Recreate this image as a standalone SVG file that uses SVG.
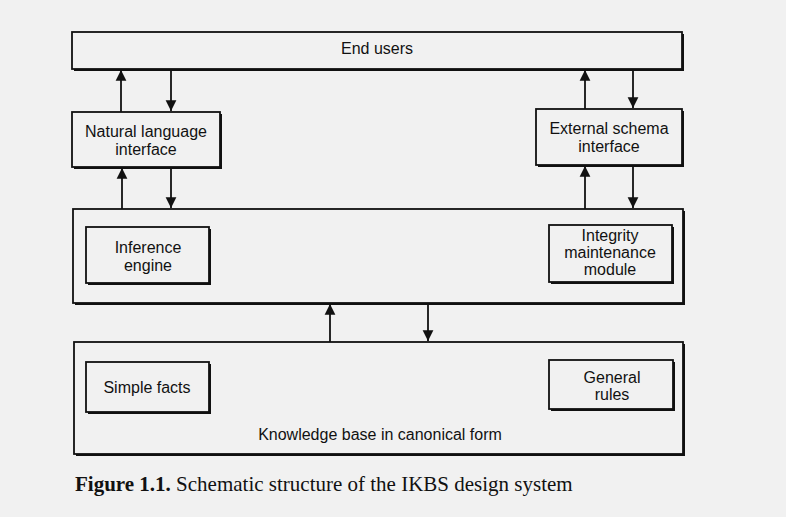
<svg xmlns="http://www.w3.org/2000/svg" width="786" height="517" viewBox="0 0 786 517">
<style>
.bg{fill:#f1f1f1}
.sh{fill:#111}
.box{fill:#f1f1f1;stroke:#111;stroke-width:1.8}
.t{font-family:"Liberation Sans",Arial,sans-serif;font-size:16px;fill:#111;text-anchor:middle}
.c{stroke:#111;stroke-width:1.8;fill:none}
.cap{font-family:"Liberation Serif","Times New Roman",serif;font-size:21px;fill:#111}
</style>
<defs>
<marker id="ah" viewBox="0 0 10 14" refX="10" refY="7" markerWidth="11" markerHeight="15" markerUnits="userSpaceOnUse" orient="auto">
<path d="M0,2 L10,7 L0,12 Z" fill="#111"/>
</marker>
</defs>
<rect class="bg" x="0" y="0" width="786" height="517"/>

<g id="end-users">
<rect class="sh" x="74" y="34" width="610" height="37"/>
<rect class="box" x="72" y="32" width="610" height="37"/>
<text class="t" x="377" y="54">End users</text>
</g>

<g id="natural-language-interface">
<rect class="sh" x="74" y="114" width="148" height="55"/>
<rect class="box" x="72" y="112" width="148" height="55"/>
<text class="t" x="146" y="137">Natural language</text>
<text class="t" x="146" y="155">interface</text>
</g>

<g id="external-schema-interface">
<rect class="sh" x="538" y="111" width="146" height="56"/>
<rect class="box" x="536" y="109" width="146" height="56"/>
<text class="t" x="609" y="134">External schema</text>
<text class="t" x="609" y="152">interface</text>
</g>

<g id="processing-layer">
<rect class="sh" x="75" y="211" width="610" height="94"/>
<rect class="box" x="73" y="209" width="610" height="94"/>
</g>

<g id="inference-engine">
<rect class="sh" x="88" y="229" width="123" height="56"/>
<rect class="box" x="86" y="227" width="123" height="56"/>
<text class="t" x="148" y="253">Inference</text>
<text class="t" x="148" y="271">engine</text>
</g>

<g id="integrity-maintenance-module">
<rect class="sh" x="551" y="227" width="123" height="57"/>
<rect class="box" x="549" y="225" width="123" height="57"/>
<text class="t" x="610" y="241">Integrity</text>
<text class="t" x="610" y="258">maintenance</text>
<text class="t" x="610" y="275">module</text>
</g>

<g id="knowledge-base">
<rect class="sh" x="76" y="344" width="609" height="112"/>
<rect class="box" x="74" y="342" width="609" height="112"/>
<text class="t" x="380" y="440">Knowledge base in canonical form</text>
</g>

<g id="simple-facts">
<rect class="sh" x="88" y="364" width="123" height="50"/>
<rect class="box" x="86" y="362" width="123" height="50"/>
<text class="t" x="147" y="393">Simple facts</text>
</g>

<g id="general-rules">
<rect class="sh" x="551" y="362" width="124" height="49"/>
<rect class="box" x="549" y="360" width="124" height="49"/>
<text class="t" x="612" y="383">General</text>
<text class="t" x="612" y="400">rules</text>
</g>

<g id="connectors">
<line class="c" x1="121" y1="112" x2="121" y2="70" marker-end="url(#ah)"/>
<line class="c" x1="171" y1="71" x2="171" y2="111" marker-end="url(#ah)"/>
<line class="c" x1="122" y1="209" x2="122" y2="168" marker-end="url(#ah)"/>
<line class="c" x1="171" y1="169" x2="171" y2="208" marker-end="url(#ah)"/>
<line class="c" x1="585" y1="109" x2="585" y2="70" marker-end="url(#ah)"/>
<line class="c" x1="633" y1="71" x2="633" y2="108" marker-end="url(#ah)"/>
<line class="c" x1="585" y1="209" x2="585" y2="166" marker-end="url(#ah)"/>
<line class="c" x1="633" y1="167" x2="633" y2="208" marker-end="url(#ah)"/>
<line class="c" x1="330" y1="342" x2="330" y2="304" marker-end="url(#ah)"/>
<line class="c" x1="428" y1="305" x2="428" y2="341" marker-end="url(#ah)"/>
</g>

<text class="cap" x="75" y="491"><tspan font-weight="bold">Figure 1.1.</tspan> Schematic structure of the IKBS design system</text>
</svg>
